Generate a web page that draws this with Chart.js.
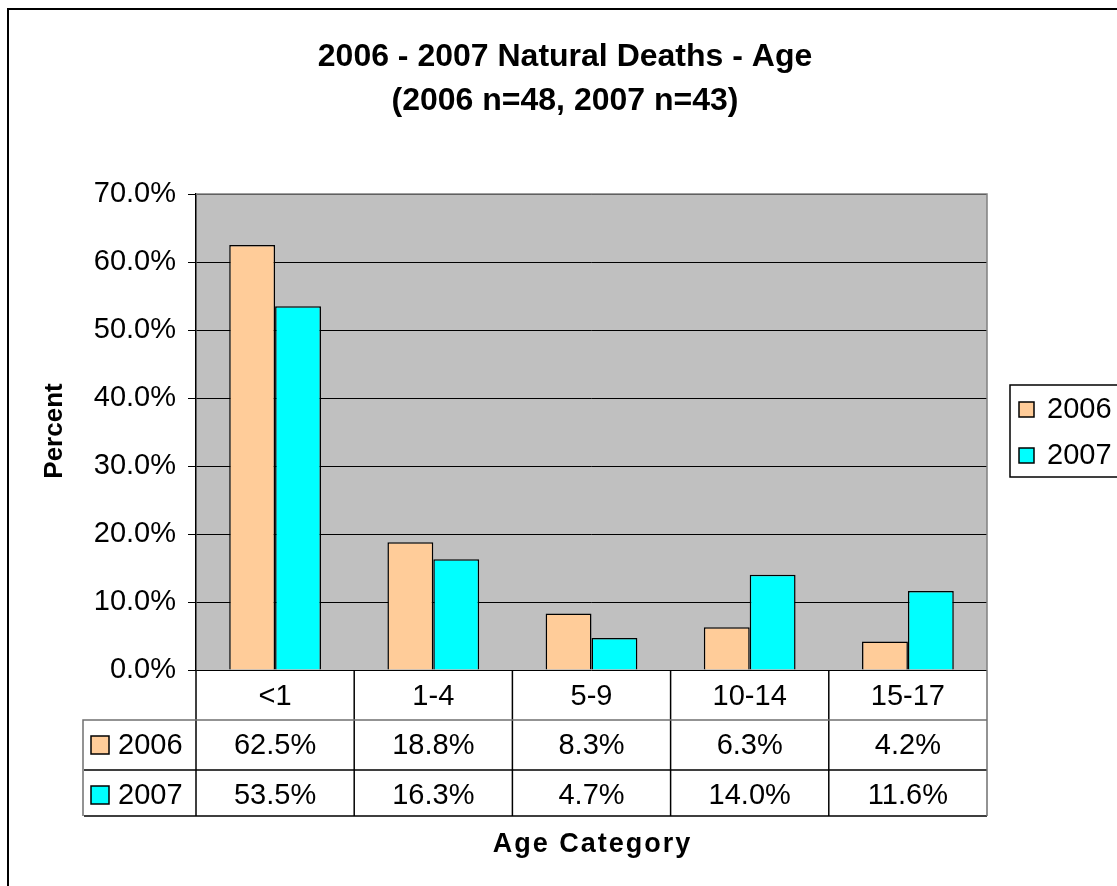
<!DOCTYPE html>
<html>
<head>
<meta charset="utf-8">
<script src="https://cdn.jsdelivr.net/npm/chart.js@4/dist/chart.umd.min.js"></script>
<style>
  body { margin: 0; background: #fff; }
  canvas { display: block; }
</style>
</head>
<body>
<canvas id="ageChart" width="1117" height="886"></canvas>
<script>
// data
const categories = ["<1", "1-4", "5-9", "10-14", "15-17"];
const seriesNames = ["2006", "2007"];
const values2006 = [62.5, 18.8, 8.3, 6.3, 4.2];
const values2007 = [53.5, 16.3, 4.7, 14.0, 11.6];
const seriesColors = ["#FFCC99", "#00FFFF"];
const yTicks = [0, 10, 20, 30, 40, 50, 60, 70];
const titleLines = ["2006 - 2007 Natural Deaths - Age", "(2006 n=48, 2007 n=43)"];

const FONT = "Arial, 'Liberation Sans', sans-serif";

function pct(v) {
    return v.toFixed(1) + "%";
}

// grey background behind the bars
const plotBackground = {
    id: "plotBackground",
    beforeDraw(chart) {
        const { ctx, chartArea } = chart;
        ctx.save();
        ctx.fillStyle = "#C0C0C0";
        ctx.fillRect(chartArea.left, chartArea.top, chartArea.right - chartArea.left, chartArea.bottom - chartArea.top);
        ctx.restore();
    }
};

// titles, data table, legend box and the outer frame
const extras = {
    id: "extras",
    afterDraw(chart) {
        const { ctx, chartArea } = chart;
        const xScale = chart.scales.x;
        const left = chartArea.left, right = chartArea.right;
        const step = (right - left) / categories.length;
        ctx.save();

        // outer frame
        ctx.strokeStyle = "#000";
        ctx.lineWidth = 2;
        ctx.beginPath();
        ctx.moveTo(8, 886);
        ctx.lineTo(8, 9);
        ctx.lineTo(1117, 9);
        ctx.stroke();

        // plot border top/right
        ctx.lineWidth = 1.5;
        ctx.strokeStyle = "#808080";
        ctx.beginPath();
        ctx.moveTo(left, chartArea.top);
        ctx.lineTo(right, chartArea.top);
        ctx.lineTo(right, chartArea.bottom);
        ctx.stroke();

        // title
        ctx.fillStyle = "#000";
        ctx.textAlign = "center";
        ctx.textBaseline = "middle";
        ctx.font = "bold 32px " + FONT;
        ctx.fillText(titleLines[0], 565, 57);
        ctx.fillText(titleLines[1], 565, 101);

        // axis titles
        ctx.font = "bold 27px " + FONT;
        ctx.letterSpacing = "2px";
        ctx.fillText("Age Category", (left + right) / 2 + 1, 845);
        ctx.letterSpacing = "0px";
        ctx.font = "bold 26px " + FONT;
        ctx.save();
        ctx.translate(55, 431);
        ctx.rotate(-Math.PI / 2);
        ctx.fillText("Percent", 0, 0);
        ctx.restore();

        // data table grid
        const rowTop = chartArea.bottom;
        const r1 = 720, r2 = 770, r3 = 816;
        ctx.lineWidth = 1.5;
        ctx.strokeStyle = "#000";
        for (let i = 0; i < categories.length; i++) {
            const x = left + i * step;
            ctx.beginPath();
            ctx.moveTo(x, rowTop);
            ctx.lineTo(x, r3);
            ctx.stroke();
        }
        ctx.beginPath();
        ctx.moveTo(84, r2);
        ctx.lineTo(right, r2);
        ctx.moveTo(84, r3);
        ctx.lineTo(right, r3);
        ctx.stroke();

        ctx.strokeStyle = "#707070";
        ctx.beginPath();
        ctx.moveTo(83, r3);
        ctx.lineTo(83, r1);
        ctx.lineTo(right, r1);
        ctx.moveTo(right, rowTop);
        ctx.lineTo(right, r3);
        ctx.stroke();

        // table rows
        const rows = [values2006, values2007];
        const rowMid = [745, 795];
        ctx.font = "29px " + FONT;
        rows.forEach((vals, r) => {
            // key square + series name
            ctx.fillStyle = seriesColors[r];
            ctx.fillRect(91, rowMid[r] - 9, 18, 18);
            ctx.strokeStyle = "#000";
            ctx.lineWidth = 1.5;
            ctx.strokeRect(91, rowMid[r] - 9, 18, 18);
            ctx.fillStyle = "#000";
            ctx.textAlign = "left";
            ctx.fillText(seriesNames[r], 118, rowMid[r] + 1);
            ctx.textAlign = "center";
            vals.forEach((v, i) => {
                ctx.fillText(pct(v), xScale.getPixelForValue(i), rowMid[r] + 1);
            });
        });

        // legend box on the right
        ctx.fillStyle = "#fff";
        ctx.fillRect(1010, 385, 120, 92);
        ctx.strokeStyle = "#000";
        ctx.lineWidth = 1.5;
        ctx.strokeRect(1010, 385, 120, 92);
        const legY = [409, 455];
        seriesNames.forEach((name, i) => {
            ctx.fillStyle = seriesColors[i];
            ctx.fillRect(1019, legY[i] - 7, 15, 15);
            ctx.strokeRect(1019, legY[i] - 7, 15, 15);
            ctx.fillStyle = "#000";
            ctx.textAlign = "left";
            ctx.fillText(name, 1047, legY[i] + 1);
        });

        ctx.restore();
    }
};

const ctx = document.getElementById("ageChart").getContext("2d");
const chart = new Chart(ctx, {
    type: "bar",
    data: {
        labels: categories,
        datasets: [
            {
                label: seriesNames[0],
                data: values2006,
                backgroundColor: seriesColors[0],
                borderColor: "#000",
                borderWidth: 1.5
            },
            {
                label: seriesNames[1],
                data: values2007,
                backgroundColor: seriesColors[1],
                borderColor: "#000",
                borderWidth: 1.5
            }
        ]
    },
    options: {
        responsive: false,
        animation: false,
        devicePixelRatio: 1,
        categoryPercentage: 0.58,
        barPercentage: 1,
        layout: { padding: { top: 194, left: 0, right: 130, bottom: 0 } },
        plugins: {
            legend: { display: false },
            title: { display: false },
            tooltip: { enabled: false }
        },
        scales: {
            x: {
                grid: { display: false },
                border: { display: false },
                ticks: {
                    color: "#000",
                    font: { family: FONT, size: 29 },
                    padding: 2,
                    maxRotation: 0
                },
                afterFit(scale) { scale.height = 216; }
            },
            y: {
                min: yTicks[0],
                max: yTicks[yTicks.length - 1],
                ticks: {
                    stepSize: 10,
                    color: "#000",
                    font: { family: FONT, size: 29 },
                    padding: 12,
                    callback: (v) => pct(v)
                },
                grid: {
                    color: "#000",
                    lineWidth: 1,
                    tickLength: 8
                },
                border: { color: "#000", width: 1.5 },
                afterFit(scale) { scale.width = 196; }
            }
        }
    },
    plugins: [plotBackground, extras]
});
</script>
</body>
</html>
